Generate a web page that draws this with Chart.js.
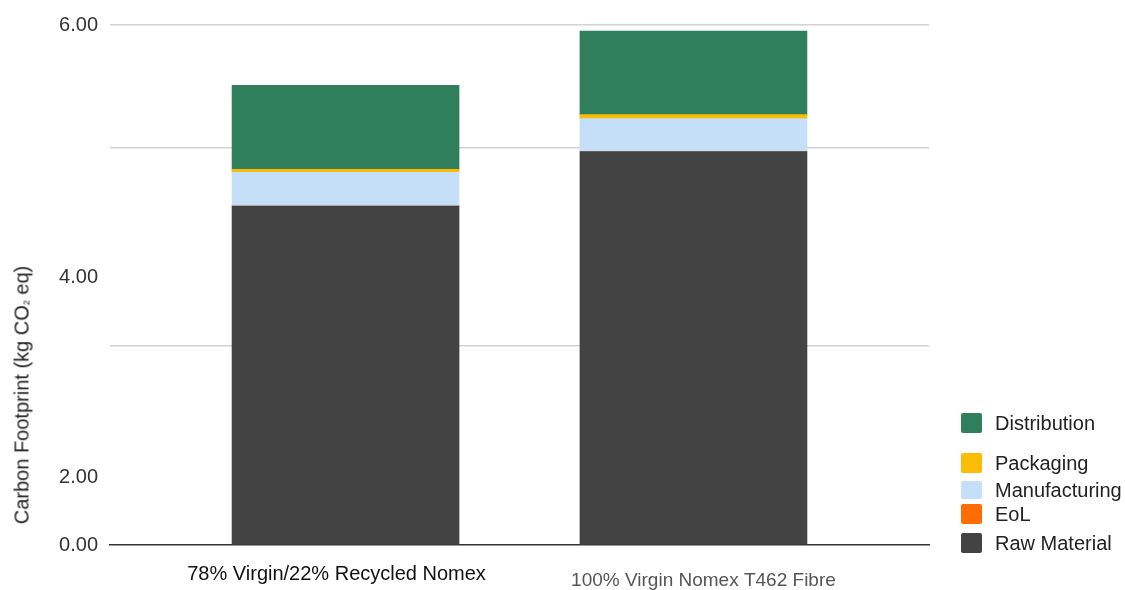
<!DOCTYPE html>
<html>
<head>
<meta charset="utf-8">
<script src="https://cdn.jsdelivr.net/npm/chart.js@4.4.1/dist/chart.umd.min.js"></script>
<style>
  html, body { margin: 0; padding: 0; background: #fff; }
  #wrap { position: relative; width: 1125px; height: 590px; overflow: hidden;
          font-family: 'Liberation Sans', Arial, sans-serif; }
  #wrap canvas { position: absolute; left: 0; top: 0; }
  .ytitle { position: absolute; left: 24px; top: 395px; white-space: nowrap;
            transform: translate(-50%, -50%) rotate(-90deg);
            font-size: 20px; color: #222; line-height: 24px; }
  .ytitle .sub { font-size: 9px; vertical-align: -1px; }
  .lg { position: absolute; left: 961px; height: 20px; white-space: nowrap; }
  .lg .box { position: absolute; left: 0; width: 21px; border-radius: 2px; }
  .lg .txt { position: absolute; left: 34px; top: -2px; font-size: 20px; color: #222; line-height: 24px; }
</style>
</head>
<body>
<div id="wrap">
  <canvas id="c" width="1125" height="590"></canvas>
  <div class="ytitle">Carbon Footprint (kg CO<span class="sub">2</span> eq)</div>
</div>
<script>
// ---------- data ----------
const categories = ['78% Virgin/22% Recycled Nomex', '100% Virgin Nomex T462 Fibre'];
const rawMaterial   = [3.91, 4.54];
const eol           = [0, 0];
const manufacturing = [0.39, 0.38];
const packaging     = [0.035, 0.046];
const distribution  = [0.97, 0.965];
const yTickLabels   = ['0.00', '2.00', '4.00', '6.00'];
const yMin = 0, yMax = 6;

// ---------- layout / style (not data) ----------
const yTickLabelAt = [0, 0.78, 3.09, 6];      // where the picture prints the tick labels
const yGridAt      = [2.30, 4.585, 6];          // where the picture draws the gridlines
const series = [
  { name: 'Raw Material',  values: rawMaterial,   color: '#434343' },
  { name: 'EoL',           values: eol,           color: '#ff6d01' },
  { name: 'Manufacturing', values: manufacturing, color: '#c6dff8' },
  { name: 'Packaging',     values: packaging,     color: '#fbbc04' },
  { name: 'Distribution',  values: distribution,  color: '#2f7f5c' }
];
const legendCenters = [422.5, 463.3, 490, 514, 543.3]; // top to bottom (Distribution first)
const legendBoxH    = [20, 20, 18, 20, 20];
const xLabelStyle = [
  { color: '#111', size: 20, dx: -9, dy: 29 },
  { color: '#555', size: 19, dx: 10, dy: 36 }
];

Chart.defaults.font.family = "'Liberation Sans', Arial, sans-serif";

// HTML legend built from the series
const wrap = document.getElementById('wrap');
series.slice().reverse().forEach((s, i) => {
  const d = document.createElement('div');
  d.className = 'lg';
  d.style.top = (legendCenters[i] - 10) + 'px';
  const b = document.createElement('div');
  b.className = 'box';
  b.style.background = s.color;
  b.style.height = legendBoxH[i] + 'px';
  b.style.top = ((20 - legendBoxH[i]) / 2) + 'px';
  const t = document.createElement('div');
  t.className = 'txt';
  t.textContent = s.name;
  d.appendChild(b); d.appendChild(t);
  wrap.appendChild(d);
});

const xLabelPlugin = {
  id: 'xLabels',
  afterDraw(chart) {
    const xs = chart.scales.x, ctx = chart.ctx, bottom = chart.chartArea.bottom;
    ctx.save();
    ctx.textAlign = 'center';
    ctx.textBaseline = 'middle';
    categories.forEach((c, i) => {
      const st = xLabelStyle[i];
      ctx.font = st.size + "px 'Liberation Sans', Arial, sans-serif";
      ctx.fillStyle = st.color;
      ctx.fillText(c, xs.getPixelForValue(i) + st.dx, bottom + st.dy);
    });
    ctx.restore();
  }
};

new Chart(document.getElementById('c'), {
  type: 'bar',
  data: {
    datasets: series.map(s => ({
      label: s.name,
      data: s.values.map((v, i) => ({ x: i, y: v })),
      backgroundColor: s.color,
      borderWidth: 0,
      barThickness: 227
    }))
  },
  options: {
    responsive: false,
    animation: false,
    devicePixelRatio: 1,
    layout: { padding: { left: 0, top: 25, right: 196, bottom: 0 } },
    plugins: { legend: { display: false }, tooltip: { enabled: false } },
    scales: {
      x: {
        type: 'linear', stacked: true, offset: false,
        min: -0.677, max: 1.677,
        grid: { display: false, drawTicks: false },
        border: { display: true, color: '#333', width: 1.5 },
        ticks: { display: false },
        afterFit(s) { s.height = 45; }
      },
      y: {
        type: 'linear', stacked: true, min: yMin, max: yMax,
        border: { display: false },
        grid: {
          drawTicks: false,
          lineWidth: 1.5,
          color: c => (c.tick && c.tick.grid) ? '#d2d2d2' : 'rgba(0,0,0,0)'
        },
        ticks: {
          autoSkip: false, padding: 12, color: '#333',
          font: { size: 20 },
          callback: (v, i, t) => t[i].lbl
        },
        afterBuildTicks(s) {
          const m = new Map();
          yTickLabelAt.forEach((v, i) => m.set(v, { value: v, lbl: yTickLabels[i], grid: false }));
          yGridAt.forEach(v => {
            if (m.has(v)) m.get(v).grid = true;
            else m.set(v, { value: v, lbl: '', grid: true });
          });
          s.ticks = Array.from(m.values()).sort((a, b) => a.value - b.value);
        },
        afterFit(s) { s.width = 110; }
      }
    }
  },
  plugins: [xLabelPlugin]
});
</script>
</body>
</html>
